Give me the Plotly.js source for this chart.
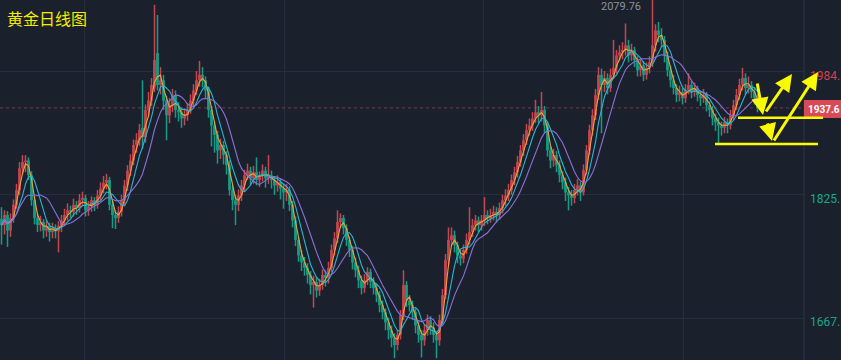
<!DOCTYPE html>
<html>
<head>
<meta charset="utf-8">
<script src="https://cdn.plot.ly/plotly-3.0.1.min.js"></script>
<style>
html,body{margin:0;padding:0;background:#1b202d;overflow:hidden;}
#chart{width:841px;height:360px;}
</style>
</head>
<body>
<div id="chart"></div>
<script>
// Gold daily candles (each drawn candle index i), prices in USD
const openP = [
1795,1787,1800,1780,1796,1813,1832,1860,1868,1870,
1851,1819,1796,1787,1791,1780,1786,1778,1783,1779,
1786,1793,1800,1806,1804,1813,1809,1819,1822,1806,
1811,1819,1813,1825,1834,1841,1845,1813,1800,1796,
1804,1819,1838,1857,1870,1890,1896,1912,1900,1935,
1947,1964,2008,1967,1973,1947,1928,1941,1954,1935,
1932,1924,1928,1935,1947,1960,1973,1980,1973,1960,
1935,1915,1903,1883,1890,1877,1864,1832,1819,1813,
1825,1838,1851,1857,1847,1855,1845,1850,1857,1847,
1851,1845,1838,1842,1834,1829,1832,1813,1793,1768,
1748,1739,1732,1723,1710,1714,1703,1710,1723,1719,
1732,1755,1770,1791,1796,1783,1768,1755,1739,1729,
1716,1706,1716,1727,1714,1706,1697,1684,1675,1662,
1652,1642,1633,1646,1671,1710,1690,1684,1675,1658,
1646,1639,1652,1665,1655,1646,1639,1665,1697,1742,
1768,1774,1761,1748,1744,1755,1768,1778,1787,1793,
1787,1793,1800,1796,1800,1804,1800,1809,1819,1825,
1832,1845,1855,1868,1883,1896,1909,1915,1924,1932,
1928,1935,1915,1883,1870,1877,1864,1851,1842,1829,
1825,1822,1832,1838,1829,1858,1883,1909,1928,1954,
1980,1967,1976,1963,1980,1989,2005,2009,2012,2018,
2005,2012,1999,1986,1992,1980,1989,1996,2018,2037,
2031,2025,2005,1986,1973,1963,1954,1958,1950,1960,
1967,1958,1963,1954,1950,1954,1941,1935,1924,1919,
1915,1912,1919,1915,1928,1941,1954,1967,1976,1963,
1967,1958,1950
];
const closeP = [
1787,1800,1780,1796,1813,1832,1860,1868,1870,1851,
1819,1796,1787,1791,1780,1786,1778,1783,1779,1786,
1793,1800,1806,1804,1813,1809,1819,1822,1806,1811,
1819,1813,1825,1834,1841,1845,1813,1800,1796,1804,
1819,1838,1857,1870,1890,1896,1909,1900,1935,1947,
1967,1999,1967,1973,1947,1928,1941,1954,1935,1932,
1924,1928,1935,1947,1960,1973,1980,1973,1960,1935,
1915,1903,1883,1890,1877,1864,1832,1819,1813,1825,
1838,1851,1857,1847,1855,1845,1850,1857,1847,1851,
1845,1838,1842,1834,1829,1832,1813,1793,1768,1748,
1739,1732,1723,1710,1714,1703,1710,1723,1719,1732,
1755,1770,1791,1796,1783,1768,1755,1739,1729,1716,
1706,1716,1727,1714,1706,1697,1684,1675,1662,1652,
1642,1633,1646,1671,1710,1690,1684,1675,1658,1646,
1639,1652,1665,1655,1646,1639,1665,1697,1742,1768,
1774,1761,1748,1744,1755,1768,1778,1787,1793,1787,
1793,1800,1796,1800,1804,1800,1809,1819,1825,1832,
1845,1855,1868,1883,1896,1909,1915,1924,1932,1928,
1935,1915,1883,1870,1877,1864,1851,1842,1829,1825,
1822,1832,1838,1829,1858,1883,1909,1928,1954,1980,
1967,1976,1963,1980,1989,2005,2009,2012,2018,2005,
2012,1999,1986,1992,1980,1989,1996,2018,2037,2031,
2025,2005,1986,1973,1963,1954,1958,1950,1960,1967,
1958,1963,1954,1950,1954,1941,1935,1924,1919,1915,
1912,1919,1915,1928,1941,1954,1967,1976,1963,1967,
1958,1950,1937.6
];
const highP = [
1810,1806,1805,1802,1820,1840,1868,1877,1877,1874,
1856,1824,1802,1799,1795,1793,1790,1790,1788,1792,
1800,1808,1815,1812,1821,1818,1827,1830,1826,1818,
1824,1823,1832,1842,1850,1853,1849,1818,1806,1811,
1826,1845,1864,1878,1897,1905,1917,1973,1942,1958,
1976,2070,2057,1990,1980,1953,1950,1962,1960,1945,
1938,1937,1944,1955,1968,1985,1998,1990,1978,1965,
1940,1920,1908,1898,1895,1882,1870,1838,1826,1833,
1845,1858,1866,1862,1863,1874,1856,1865,1862,1877,
1857,1850,1851,1847,1840,1840,1837,1818,1798,1772,
1755,1746,1738,1728,1722,1720,1718,1730,1729,1740,
1762,1778,1806,1802,1800,1788,1772,1760,1745,1735,
1722,1724,1733,1731,1720,1712,1702,1690,1680,1668,
1658,1648,1652,1678,1729,1715,1697,1690,1680,1663,
1652,1660,1672,1670,1662,1650,1672,1705,1750,1784,
1784,1780,1766,1755,1762,1776,1810,1795,1800,1798,
1800,1823,1806,1808,1812,1810,1816,1826,1833,1840,
1852,1862,1876,1890,1904,1917,1924,1932,1948,1940,
1958,1940,1920,1888,1885,1882,1870,1856,1848,1836,
1832,1840,1846,1843,1865,1890,1916,1936,1962,1990,
1988,1985,1982,1988,2025,2012,2018,2022,2046,2025,
2020,2016,2004,2000,1998,1996,2004,2079.76,2045,2048,
2040,2030,2010,1992,1980,1968,1966,1963,1968,1982,
1972,1970,1966,1960,1962,1958,1946,1940,1930,1925,
1920,1926,1924,1935,1948,1962,1975,1989,1982,1978,
1972,1964,1955
];
const lowP = [
1762,1775,1759,1772,1790,1808,1826,1852,1855,1845,
1812,1788,1778,1779,1770,1772,1766,1770,1770,1752,
1778,1786,1793,1796,1798,1800,1803,1811,1798,1799,
1804,1805,1808,1818,1828,1833,1806,1783,1782,1790,
1798,1813,1831,1850,1864,1880,1889,1885,1893,1926,
1940,1958,1960,1955,1935,1896,1918,1932,1925,1920,
1912,1915,1921,1930,1940,1954,1965,1964,1950,1925,
1888,1880,1866,1872,1865,1852,1825,1806,1787,1805,
1818,1830,1845,1838,1840,1838,1836,1843,1835,1840,
1834,1826,1830,1820,1808,1818,1805,1784,1760,1740,
1728,1722,1712,1698,1681,1694,1696,1704,1708,1712,
1727,1748,1764,1783,1775,1760,1746,1730,1720,1706,
1698,1700,1710,1706,1698,1688,1675,1666,1652,1640,
1630,1616,1626,1640,1665,1682,1676,1665,1648,1636,
1617,1632,1645,1646,1636,1616,1632,1660,1692,1736,
1760,1752,1738,1735,1738,1750,1762,1772,1780,1778,
1780,1786,1788,1790,1793,1790,1794,1802,1812,1818,
1826,1838,1848,1862,1876,1890,1902,1908,1918,1918,
1920,1905,1875,1860,1862,1855,1842,1833,1818,1806,
1812,1815,1825,1818,1825,1852,1877,1902,1922,1948,
1905,1958,1955,1958,1975,1982,1998,2000,2005,1996,
1998,1990,1978,1978,1972,1974,1982,1990,2010,2022,
2015,1996,1978,1964,1955,1945,1946,1942,1944,1955,
1950,1952,1946,1940,1944,1933,1926,1915,1908,1892,
1902,1905,1905,1910,1922,1935,1948,1960,1955,1956,
1950,1942,1932
];
const gridPrices = [1667.27, 1825.75, 1984.23];
const gridLabels = ['1667.', '1825.', '1984.'];
const lastPrice = 1937.6;
const lastLabel = '1937.6';
const peakLabel = '2079.76';
const chartTitle = '黄金日线图';
const maPeriods = [3, 6, 11];

const idx = closeP.map((_, i) => i);
function sma(arr, n) {
  return arr.map((_, i) => {
    const s = Math.max(0, i - n + 1);
    let t = 0;
    for (let k = s; k <= i; k++) t += arr[k];
    return t / (i - s + 1);
  });
}
const maColors = ['#f0a23a', '#27b6d6', '#8c70d8'];
const UP = '#c4464f', DN = '#149d86';

const W = 804, H = 360;
const px = v => v / W;
const py = v => 1 - v / H;

// candles drawn as bars through the axes: wicks (low->high) then bodies (open<->close)
const upI = idx.filter(i => closeP[i] >= openP[i]);
const dnI = idx.filter(i => closeP[i] < openP[i]);
function wick(ids, col) {
  return {type: 'bar', x: ids, base: ids.map(i => lowP[i]), y: ids.map(i => highP[i] - lowP[i]),
    width: 0.5, marker: {color: col, line: {width: 0}}, hoverinfo: 'none', showlegend: false};
}
function body(ids, col) {
  return {type: 'bar', x: ids, base: ids.map(i => Math.min(openP[i], closeP[i])),
    y: ids.map(i => Math.max(Math.abs(closeP[i] - openP[i]), 0.8)),
    width: 0.92, marker: {color: col, line: {width: 0}}, hoverinfo: 'none', showlegend: false};
}
const traces = [wick(upI, UP), wick(dnI, DN), body(upI, UP), body(dnI, DN)];
maPeriods.forEach((n, k) => {
  traces.push({type: 'scatter', mode: 'lines', x: idx, y: sma(closeP, n),
    line: {color: maColors[k], width: 1.1}, hoverinfo: 'none', showlegend: false});
});

const yel = '#fafa00';
const shapes = [
  {type: 'line', xref: 'paper', yref: 'paper', x0: 1, x1: 1, y0: 0, y1: 1, line: {color: '#2b3242', width: 1}},
  {type: 'line', xref: 'paper', yref: 'y', x0: 0, x1: 1, y0: lastPrice, y1: lastPrice, line: {color: 'rgba(190,80,95,0.55)', width: 1, dash: '3px,3px'}},
  {type: 'rect', xref: 'paper', yref: 'paper', x0: 1, x1: px(841), y0: py(118), y1: py(100), fillcolor: '#d84a55', line: {width: 0}},
  {type: 'line', xref: 'paper', yref: 'paper', x0: px(738), x1: px(823), y0: py(117.7), y1: py(117.7), line: {color: yel, width: 2.5}},
  {type: 'line', xref: 'paper', yref: 'paper', x0: px(715), x1: px(818), y0: py(144), y1: py(144), line: {color: yel, width: 2.5}}
];

const annotations = [
  {xref: 'paper', yref: 'paper', x: px(5), y: py(18), xanchor: 'left', yanchor: 'middle', showarrow: false,
   text: chartTitle, font: {family: 'Noto Sans CJK SC', size: 16, color: '#f5ed00'}},
  {xref: 'paper', yref: 'paper', x: px(643), y: py(6), xanchor: 'right', yanchor: 'middle', showarrow: false,
   text: peakLabel, font: {family: 'Roboto, Arial', size: 11, color: '#8d929c'}},
  {xref: 'paper', yref: 'paper', x: px(806), y: py(109.5), xanchor: 'left', yanchor: 'middle', showarrow: false,
   text: '<b>' + lastLabel + '</b>', font: {family: 'Roboto, Arial', size: 10, color: '#ffffff'}}
];
gridPrices.forEach((p, k) => {
  annotations.push({xref: 'paper', yref: 'y', x: px(808), y: p, yshift: -4, xanchor: 'left', yanchor: 'middle', showarrow: false,
    text: gridLabels[k], font: {family: 'Roboto, Arial', size: 12, color: p > lastPrice ? '#cf434e' : '#17a88b'}});
});
// yellow arrows (tip at x,y; tail offset ax,ay in pixels)
[[763,115,-6,-33],[792,74,-27,39],[772,141,-5,-19],[818,72,-45,70]].forEach(a => {
  annotations.push({xref: 'paper', yref: 'paper', x: px(a[0]), y: py(a[1]), ax: a[2], ay: a[3], text: '',
    showarrow: true, arrowhead: 2, arrowsize: 1.15, arrowwidth: 3, arrowcolor: yel});
});

const layout = {
  width: 841, height: 360,
  margin: {l: 0, r: 37, t: 0, b: 0, pad: 0},
  paper_bgcolor: '#1b202d', plot_bgcolor: '#1b202d',
  showlegend: false, barmode: 'overlay',
  xaxis: {range: [-0.5, 267.5], tickvals: [27.5, 94.17, 160.83, 227.17], showticklabels: false,
          gridcolor: '#262d3b', gridwidth: 1, zeroline: false, showline: false, ticks: '', fixedrange: true},
  yaxis: {range: [1613.7, 2076.2], tickvals: gridPrices, showticklabels: false,
          gridcolor: '#262d3b', gridwidth: 1, zeroline: false, showline: false, ticks: '', fixedrange: true},
  shapes: shapes, annotations: annotations
};
Plotly.newPlot('chart', traces, layout, {staticPlot: true, displayModeBar: false});
</script>
</body>
</html>
